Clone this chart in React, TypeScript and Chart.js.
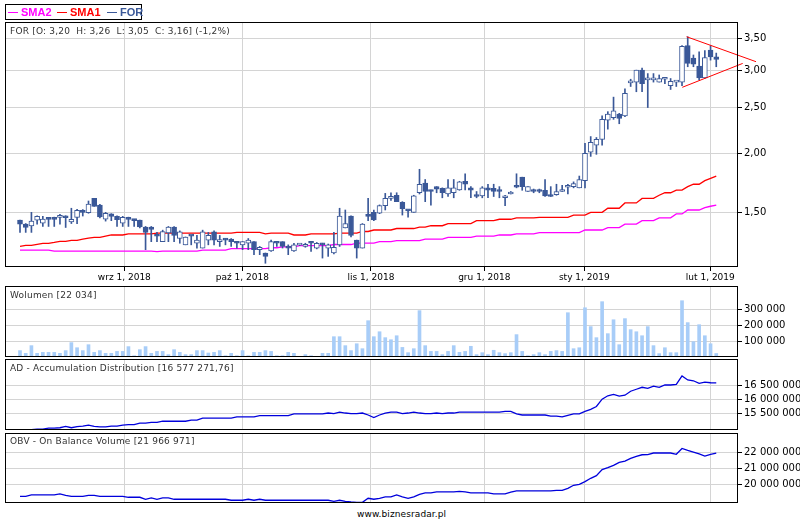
import React, { useEffect, useRef } from 'react';
import { Chart, registerables } from 'chart.js';

Chart.register(...registerables);

// ---------- DATA ----------
const monthTickPos = [18.28, 38.95, 61.5, 81.36, 98.88, 120.96];
const monthLabels = ['wrz 1, 2018', 'paź 1, 2018', 'lis 1, 2018', 'gru 1, 2018', 'sty 1, 2019', 'lut 1, 2019'];

const openP = [
  1.445, 1.416, 1.403, 1.443, 1.422, 1.463, 1.463, 1.463, 1.473, 1.432,
  1.463, 1.515, 1.498, 1.605, 1.554, 1.451, 1.488, 1.471, 1.422, 1.463,
  1.449, 1.445, 1.396, 1.396, 1.34, 1.30, 1.356, 1.396, 1.32, 1.28,
  1.34, 1.29, 1.26, 1.31, 1.364, 1.30, 1.32, 1.317, 1.30, 1.28,
  1.29, 1.30, 1.25, 1.23, 1.242, 1.295, 1.30, 1.262, 1.242, 1.278,
  1.27, 1.30, 1.26, 1.29, 1.26, 1.23, 1.28, 1.39, 1.473, 1.31,
  1.26, 1.486, 1.50, 1.493, 1.55, 1.605, 1.63, 1.574, 1.52, 1.50,
  1.65, 1.73, 1.672, 1.70, 1.685, 1.64, 1.65, 1.672, 1.745, 1.69,
  1.63, 1.625, 1.69, 1.685, 1.665, 1.61, 1.64, 1.70, 1.78, 1.66,
  1.67, 1.672, 1.67, 1.63, 1.635, 1.66, 1.695, 1.70, 1.69, 1.75,
  2.01, 2.08, 2.14, 2.35, 2.38, 2.42, 2.40, 2.82, 2.83, 3.00,
  2.86, 2.86, 2.83, 2.87, 2.78, 2.83, 2.83, 3.38, 3.18, 3.06,
  2.89, 3.31, 3.20,
];
const highP = [
  1.445, 1.42, 1.50, 1.475, 1.471, 1.463, 1.465, 1.486, 1.475, 1.53,
  1.522, 1.52, 1.585, 1.605, 1.56, 1.50, 1.49, 1.475, 1.471, 1.465,
  1.45, 1.445, 1.40, 1.40, 1.36, 1.375, 1.40, 1.40, 1.37, 1.33,
  1.34, 1.34, 1.375, 1.36, 1.37, 1.34, 1.32, 1.32, 1.30, 1.30,
  1.32, 1.30, 1.27, 1.23, 1.31, 1.295, 1.30, 1.28, 1.29, 1.285,
  1.29, 1.30, 1.295, 1.29, 1.285, 1.36, 1.53, 1.517, 1.475, 1.31,
  1.42, 1.605, 1.517, 1.555, 1.645, 1.65, 1.65, 1.58, 1.52, 1.63,
  1.85, 1.76, 1.672, 1.70, 1.69, 1.76, 1.76, 1.745, 1.81, 1.70,
  1.66, 1.70, 1.72, 1.72, 1.70, 1.63, 1.66, 1.81, 1.78, 1.70,
  1.68, 1.68, 1.76, 1.70, 1.72, 1.71, 1.72, 1.74, 1.79, 2.10,
  2.17, 2.16, 2.40, 2.45, 2.63, 2.43, 2.74, 2.87, 3.00, 3.03,
  2.95, 2.95, 2.93, 2.89, 2.88, 2.83, 3.38, 3.53, 3.23, 3.28,
  3.30, 3.38, 3.26,
];
const lowP = [
  1.36, 1.36, 1.36, 1.416, 1.40, 1.40, 1.40, 1.416, 1.393, 1.42,
  1.42, 1.473, 1.493, 1.544, 1.46, 1.437, 1.44, 1.40, 1.40, 1.40,
  1.40, 1.39, 1.25, 1.30, 1.30, 1.30, 1.30, 1.30, 1.29, 1.28,
  1.28, 1.26, 1.26, 1.28, 1.28, 1.27, 1.28, 1.27, 1.26, 1.25,
  1.25, 1.22, 1.22, 1.17, 1.24, 1.27, 1.26, 1.22, 1.24, 1.275,
  1.265, 1.24, 1.255, 1.20, 1.21, 1.225, 1.27, 1.39, 1.33, 1.20,
  1.26, 1.44, 1.44, 1.49, 1.517, 1.59, 1.58, 1.48, 1.465, 1.50,
  1.64, 1.58, 1.554, 1.65, 1.61, 1.62, 1.61, 1.67, 1.672, 1.61,
  1.61, 1.61, 1.61, 1.62, 1.61, 1.55, 1.64, 1.69, 1.67, 1.66,
  1.65, 1.65, 1.62, 1.62, 1.63, 1.66, 1.64, 1.69, 1.69, 1.69,
  1.97, 1.99, 2.08, 2.25, 2.36, 2.31, 2.39, 2.77, 2.70, 2.70,
  2.50, 2.83, 2.83, 2.81, 2.73, 2.77, 2.78, 3.05, 3.05, 2.86,
  2.88, 3.15, 3.05,
];
const closeP = [
  1.416, 1.393, 1.437, 1.471, 1.451, 1.449, 1.449, 1.473, 1.461, 1.449,
  1.515, 1.50, 1.561, 1.544, 1.466, 1.493, 1.471, 1.447, 1.463, 1.449,
  1.44, 1.396, 1.36, 1.38, 1.335, 1.366, 1.396, 1.34, 1.363, 1.329,
  1.336, 1.31, 1.364, 1.34, 1.31, 1.31, 1.31, 1.30, 1.29, 1.30,
  1.31, 1.25, 1.265, 1.21, 1.30, 1.29, 1.27, 1.26, 1.28, 1.282,
  1.28, 1.29, 1.29, 1.28, 1.28, 1.265, 1.473, 1.42, 1.34, 1.26,
  1.416, 1.47, 1.445, 1.55, 1.605, 1.62, 1.58, 1.527, 1.51, 1.625,
  1.72, 1.66, 1.66, 1.68, 1.65, 1.69, 1.69, 1.74, 1.72, 1.67,
  1.62, 1.69, 1.67, 1.66, 1.66, 1.625, 1.65, 1.695, 1.70, 1.70,
  1.66, 1.66, 1.625, 1.62, 1.66, 1.665, 1.70, 1.725, 1.76, 2.00,
  2.11, 2.14, 2.36, 2.42, 2.46, 2.37, 2.68, 2.82, 3.00, 2.81,
  2.86, 2.86, 2.88, 2.87, 2.84, 2.83, 3.37, 3.10, 3.09, 2.89,
  3.19, 3.20, 3.16,
];
const sma1 = [
  1.271, 1.277, 1.277, 1.283, 1.289, 1.289, 1.295, 1.302, 1.302, 1.308,
  1.308, 1.316, 1.322, 1.327, 1.327, 1.336, 1.343, 1.343, 1.343, 1.35,
  1.35, 1.35, 1.35, 1.35, 1.355, 1.355, 1.355, 1.355, 1.355, 1.355,
  1.355, 1.355, 1.355, 1.355, 1.355, 1.355, 1.355, 1.355, 1.36, 1.36,
  1.36, 1.36, 1.36, 1.35, 1.355, 1.355, 1.355, 1.355, 1.343, 1.343,
  1.343, 1.35, 1.35, 1.35, 1.35, 1.35, 1.355, 1.355, 1.355, 1.355,
  1.366, 1.366, 1.376, 1.376, 1.376, 1.376, 1.386, 1.386, 1.386, 1.386,
  1.395, 1.395, 1.405, 1.405, 1.405, 1.42, 1.42, 1.42, 1.42, 1.42,
  1.44, 1.44, 1.44, 1.44, 1.45, 1.45, 1.45, 1.46, 1.46, 1.46,
  1.46, 1.464, 1.464, 1.464, 1.464, 1.464, 1.464, 1.48, 1.48, 1.48,
  1.50, 1.50, 1.50, 1.53, 1.53, 1.53, 1.57, 1.57, 1.57, 1.605,
  1.605, 1.605, 1.63, 1.65, 1.65, 1.672, 1.672, 1.70, 1.72, 1.72,
  1.75, 1.77, 1.79,
];
const sma2 = [
  1.247, 1.247, 1.247, 1.247, 1.247, 1.247, 1.241, 1.241, 1.241, 1.241,
  1.241, 1.241, 1.241, 1.241, 1.241, 1.241, 1.241, 1.241, 1.241, 1.241,
  1.241, 1.241, 1.241, 1.241, 1.238, 1.241, 1.241, 1.241, 1.241, 1.241,
  1.241, 1.241, 1.247, 1.247, 1.247, 1.247, 1.247, 1.256, 1.256, 1.256,
  1.256, 1.256, 1.256, 1.256, 1.262, 1.262, 1.267, 1.267, 1.267, 1.275,
  1.275, 1.275, 1.275, 1.275, 1.275, 1.282, 1.282, 1.282, 1.282, 1.291,
  1.291, 1.291, 1.291, 1.30, 1.30, 1.30, 1.306, 1.306, 1.306, 1.306,
  1.306, 1.316, 1.316, 1.316, 1.316, 1.327, 1.327, 1.327, 1.327, 1.327,
  1.336, 1.336, 1.336, 1.336, 1.343, 1.343, 1.343, 1.35, 1.35, 1.35,
  1.35, 1.358, 1.358, 1.358, 1.358, 1.358, 1.358, 1.358, 1.358, 1.376,
  1.376, 1.376, 1.376, 1.392, 1.392, 1.392, 1.416, 1.416, 1.416, 1.44,
  1.44, 1.44, 1.46, 1.46, 1.46, 1.488, 1.488, 1.517, 1.517, 1.517,
  1.535, 1.545, 1.554,
];
// triangle trend lines: [bar index, price]
const trendUpper = [[116.8, 3.531], [128.97, 3.126]];
const trendLower = [[116.05, 2.759], [126.63, 3.10]];

const volume = [
  40000, 23000, 71000, 23000, 29000, 29000, 29000, 23000, 40000, 90000,
  58000, 40000, 77000, 29000, 40000, 23000, 23000, 35000, 35000, 65000,
  8000, 46000, 65000, 23000, 35000, 35000, 15000, 46000, 29000, 15000,
  15000, 40000, 40000, 25000, 29000, 40000, 8000, 23000, 8000, 40000,
  8000, 29000, 29000, 40000, 35000, 8000, 8000, 29000, 23000, 3000,
  15000, 8000, 3000, 23000, 23000, 127000, 127000, 71000, 40000, 83000,
  52000, 227000, 127000, 158000, 121000, 108000, 133000, 60000, 27000, 52000,
  290000, 71000, 35000, 35000, 15000, 35000, 71000, 29000, 35000, 67000,
  15000, 27000, 15000, 42000, 27000, 21000, 27000, 140000, 35000, 8000,
  15000, 27000, 15000, 35000, 40000, 35000, 277000, 52000, 58000, 308000,
  190000, 121000, 346000, 146000, 233000, 77000, 240000, 171000, 158000, 133000,
  190000, 71000, 21000, 58000, 27000, 27000, 352000, 215000, 96000, 202000,
  133000, 83000, 22034,
];
// millions
const adLine = [
  14.86, 14.89, 14.92, 14.94, 14.94, 14.975, 14.975, 14.99, 15.04, 14.99,
  15.03, 15.05, 15.08, 15.04, 15.02, 15.02, 15.05, 15.05, 15.08, 15.10,
  15.10, 15.15, 15.15, 15.18, 15.18, 15.22, 15.22, 15.22, 15.22, 15.22,
  15.26, 15.26, 15.33, 15.33, 15.33, 15.33, 15.33, 15.33, 15.375, 15.375,
  15.375, 15.375, 15.42, 15.42, 15.42, 15.42, 15.42, 15.42, 15.48, 15.48,
  15.48, 15.48, 15.48, 15.48, 15.51, 15.49, 15.54, 15.51, 15.49, 15.49,
  15.51, 15.44, 15.35, 15.44, 15.51, 15.54, 15.54, 15.49, 15.51, 15.54,
  15.51, 15.49, 15.49, 15.51, 15.49, 15.51, 15.51, 15.54, 15.54, 15.54,
  15.54, 15.54, 15.54, 15.54, 15.54, 15.57, 15.57, 15.48, 15.44, 15.44,
  15.44, 15.44, 15.44, 15.40, 15.40, 15.375, 15.43, 15.48, 15.48, 15.57,
  15.64, 15.74, 16.00, 16.12, 16.17, 16.11, 16.14, 16.28, 16.35, 16.42,
  16.38, 16.46, 16.42, 16.50, 16.50, 16.52, 16.82, 16.68, 16.65, 16.56,
  16.60, 16.58, 16.577272,
];
// millions
const obvLine = [
  19.242, 19.242, 19.326, 19.326, 19.326, 19.326, 19.326, 19.39, 19.305, 19.242,
  19.242, 19.242, 19.305, 19.305, 19.242, 19.242, 19.242, 19.242, 19.242, 19.179,
  19.179, 19.179, 19.053, 19.137, 19.053, 19.137, 19.137, 19.053, 19.053, 19.053,
  19.053, 19.053, 19.053, 19.053, 19.053, 19.053, 19.053, 18.99, 18.99, 18.99,
  19.053, 18.99, 19.053, 18.99, 18.99, 18.99, 18.99, 18.99, 18.99, 18.99,
  18.99, 18.99, 18.99, 18.99, 18.99, 18.926, 18.99, 18.926, 18.88, 18.86,
  18.86, 19.116, 19.053, 19.116, 19.2, 19.2, 19.326, 19.2, 19.116, 19.2,
  19.368, 19.453, 19.453, 19.516, 19.516, 19.516, 19.516, 19.558, 19.516, 19.453,
  19.453, 19.453, 19.453, 19.39, 19.39, 19.39, 19.5, 19.58, 19.58, 19.58,
  19.58, 19.58, 19.58, 19.58, 19.62, 19.62, 19.747, 19.937, 20.0, 20.168,
  20.379, 20.547, 20.926, 21.05, 21.2, 21.39, 21.47, 21.64, 21.77, 21.87,
  21.88, 21.98, 21.98, 21.98, 21.98, 21.9, 22.27, 22.15, 22.04, 21.92,
  21.79, 21.9, 21.966971,
];

const priceTicks = [1.5, 2.0, 2.5, 3.0, 3.5];
const volumeTicks = [100000, 200000, 300000];
const adTicks = [15.5, 16.0, 16.5];
const obvTicks = [20, 21, 22];

// ---------- STYLE ----------
const BLUE = '#3a5898';
const GRID = '#d4d4d4';
const VOL = '#a8cdf8';
const LINE_BLUE = '#0000dc';
const X_MIN = -2.63;
const X_MAX = 125.81;
const AXIS_W = 62;
const FONT = 'DejaVu Sans';

const fmtInt = (n: number) => Math.round(n).toString().replace(/\B(?=(\d{3})+(?!\d))/g, ' ');
const fmtPrice = (n: number) => n.toFixed(2).replace('.', ',');

const framePlugin = {
  id: 'frame',
  afterDraw(chart: any) {
    const { ctx, chartArea: a } = chart;
    ctx.save();
    ctx.strokeStyle = '#000';
    ctx.lineWidth = 1;
    ctx.strokeRect(a.left + 0.5, a.top + 0.5, a.right - a.left - 1, a.bottom - a.top - 1);
    ctx.restore();
  },
};

function xScale(showLabels: boolean) {
  return {
    type: 'linear',
    min: X_MIN,
    max: X_MAX,
    offset: false,
    afterBuildTicks: (s: any) => {
      s.ticks = monthTickPos.map((v) => ({ value: v }));
    },
    afterFit: (s: any) => {
      s.height = showLabels ? 19 : 0;
      s.paddingLeft = 0;
      s.paddingRight = 0;
    },
    grid: { color: GRID, tickColor: '#000', tickLength: 4, drawTicks: showLabels, offset: false },
    border: { display: false },
    ticks: {
      display: showLabels,
      autoSkip: false,
      maxRotation: 0,
      padding: 1,
      color: '#000',
      font: { family: FONT, size: 9 },
      callback: (v: number) => {
        const k = monthTickPos.indexOf(v);
        return k >= 0 ? monthLabels[k] : '';
      },
    },
  };
}

function yScale(type: string, min: number, max: number, ticks: number[], fmt: (v: number) => string) {
  return {
    type,
    position: 'right',
    min,
    max,
    afterBuildTicks: (s: any) => {
      s.ticks = ticks.map((v) => ({ value: v }));
    },
    afterFit: (s: any) => {
      s.width = AXIS_W;
      s.paddingTop = 0;
      s.paddingBottom = 0;
    },
    grid: { color: GRID, tickColor: '#000', tickLength: 4 },
    border: { display: false },
    ticks: {
      autoSkip: false,
      padding: 2,
      color: '#000',
      font: { family: FONT, size: 10 },
      callback: (v: number) => fmt(v),
    },
  };
}

const baseOptions = {
  responsive: false,
  animation: false,
  events: [],
  layout: { padding: { left: 5, right: 0, top: 0, bottom: 0 } },
  plugins: { legend: { display: false }, tooltip: { enabled: false } },
};

const idx = openP.map((_, i) => i);

function mainConfig(): any {
  return {
    type: 'bar',
    data: {
      datasets: [
        {
          type: 'line',
          data: idx.map((i) => ({ x: i, y: sma2[i] })),
          borderColor: '#ff00ff',
          borderWidth: 1.3,
          pointRadius: 0,
          order: 5,
        },
        {
          type: 'line',
          data: idx.map((i) => ({ x: i, y: sma1[i] })),
          borderColor: '#ff0000',
          borderWidth: 1.3,
          pointRadius: 0,
          order: 4,
        },
        {
          type: 'bar',
          data: idx.map((i) => ({ x: i, y: [lowP[i], highP[i]] })),
          backgroundColor: BLUE,
          barThickness: 1,
          grouped: false,
          order: 3,
        },
        {
          type: 'bar',
          data: idx.map((i) => ({ x: i, y: [openP[i], closeP[i]] })),
          backgroundColor: idx.map((i) => (closeP[i] >= openP[i] ? '#ffffff' : BLUE)),
          borderColor: BLUE,
          borderWidth: 1,
          borderSkipped: false,
          barThickness: 5,
          minBarLength: 2,
          grouped: false,
          order: 2,
        },
        {
          type: 'line',
          data: trendUpper.map(([x, y]) => ({ x, y })),
          borderColor: '#ff0000',
          borderWidth: 1,
          pointRadius: 0,
          clip: false,
          order: 1,
        },
        {
          type: 'line',
          data: trendLower.map(([x, y]) => ({ x, y })),
          borderColor: '#ff0000',
          borderWidth: 1,
          pointRadius: 0,
          clip: false,
          order: 0,
        },
      ],
    },
    options: {
      ...baseOptions,
      scales: {
        x: xScale(true),
        y: yScale('logarithmic', 1.1489, 3.7935, priceTicks, fmtPrice),
      },
    },
    plugins: [framePlugin],
  };
}

function volumeConfig(): any {
  return {
    type: 'bar',
    data: {
      datasets: [
        {
          data: idx.map((i) => ({ x: i, y: volume[i] })),
          backgroundColor: VOL,
          barThickness: 3,
          grouped: false,
        },
      ],
    },
    options: {
      ...baseOptions,
      scales: {
        x: xScale(false),
        y: yScale('linear', 0, 444000, volumeTicks, fmtInt),
      },
    },
    plugins: [framePlugin],
  };
}

function lineConfig(values: number[], min: number, max: number, ticks: number[]): any {
  return {
    type: 'line',
    data: {
      datasets: [
        {
          data: idx.map((i) => ({ x: i, y: values[i] })),
          borderColor: LINE_BLUE,
          borderWidth: 1.3,
          pointRadius: 0,
        },
      ],
    },
    options: {
      ...baseOptions,
      scales: {
        x: xScale(false),
        y: yScale('linear', min, max, ticks, (v) => fmtInt(v * 1000000)),
      },
    },
    plugins: [framePlugin],
  };
}

function Panel({ top, height, make }: { top: number; height: number; make: () => any }) {
  const ref = useRef<HTMLCanvasElement | null>(null);
  useEffect(() => {
    const chart = new Chart(ref.current as HTMLCanvasElement, make());
    return () => chart.destroy();
  }, []);
  return (
    <canvas
      ref={ref}
      width={800}
      height={height}
      style={{ position: 'absolute', left: 0, top, width: 800, height, display: 'block' }}
    />
  );
}

const titleStyle: React.CSSProperties = {
  position: 'absolute',
  left: 10,
  fontFamily: FONT,
  fontSize: 9,
  lineHeight: '12px',
  letterSpacing: '0.2px',
  color: '#333',
  whiteSpace: 'pre',
};

const legendText: React.CSSProperties = {
  position: 'absolute',
  top: 0,
  fontFamily: 'Liberation Sans, Arial, sans-serif',
  fontWeight: 'bold',
  fontSize: 11,
  lineHeight: '15px',
};

export default function App() {
  return (
    <div style={{ position: 'absolute', left: 0, top: 0, width: 800, height: 520, background: '#fff', overflow: 'hidden' }}>
      <Panel top={22} height={264} make={mainConfig} />
      <Panel top={286} height={71} make={volumeConfig} />
      <Panel top={359} height={71} make={() => lineConfig(adLine, 14.91, 17.419, adTicks)} />
      <Panel top={433} height={70} make={() => lineConfig(obvLine, 18.8165, 23.247, obvTicks)} />

      <div style={{ position: 'absolute', left: 5, top: 4, width: 137, height: 16, border: '1px solid #000', boxSizing: 'border-box', background: '#fff' }}>
        <div style={{ position: 'absolute', left: 2, top: 7, width: 10, height: 1, background: '#ff00ff' }} />
        <div style={{ ...legendText, left: 15, color: '#ff00ff' }}>SMA2</div>
        <div style={{ position: 'absolute', left: 51, top: 7, width: 10, height: 1, background: '#ff0000' }} />
        <div style={{ ...legendText, left: 64, color: '#ff0000' }}>SMA1</div>
        <div style={{ position: 'absolute', left: 101, top: 7, width: 10, height: 1, background: BLUE }} />
        <div style={{ ...legendText, left: 114, color: BLUE }}>FOR</div>
      </div>

      <div style={{ ...titleStyle, top: 25 }}>{'FOR [O: 3,20  H: 3,26  L: 3,05  C: 3,16] (-1,2%)'}</div>
      <div style={{ ...titleStyle, top: 289 }}>{'Wolumen [22 034]'}</div>
      <div style={{ ...titleStyle, top: 362 }}>{'AD - Accumulation Distribution [16 577 271,76]'}</div>
      <div style={{ ...titleStyle, top: 435 }}>{'OBV - On Balance Volume [21 966 971]'}</div>
      <div style={{ ...titleStyle, left: 357, top: 508, color: '#000', letterSpacing: '0.1px' }}>{'www.biznesradar.pl'}</div>
    </div>
  );
}
